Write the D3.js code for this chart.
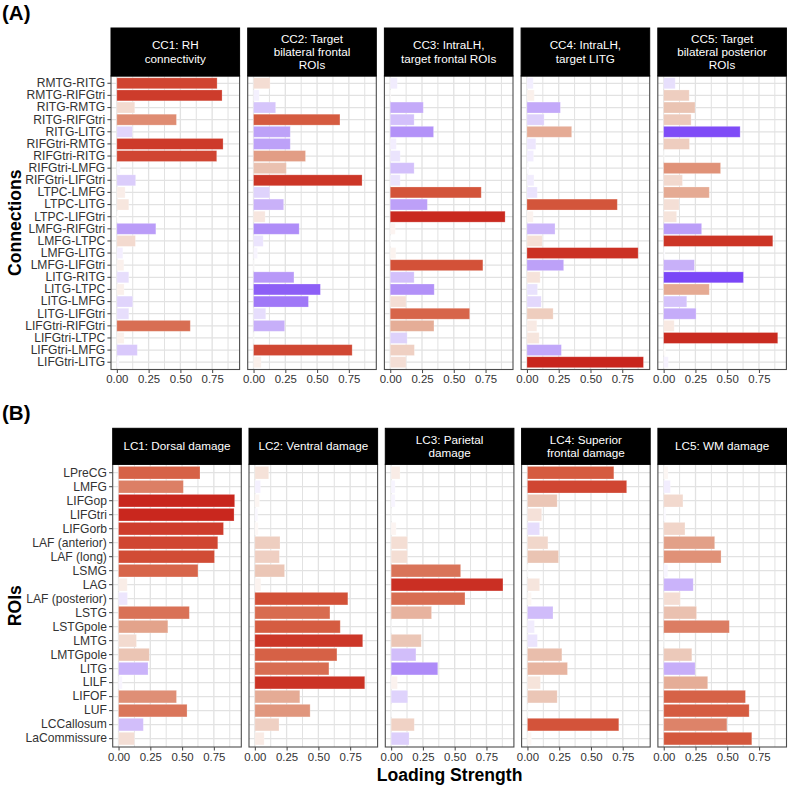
<!DOCTYPE html>
<html><head><meta charset="utf-8">
<script src="https://cdnjs.cloudflare.com/ajax/libs/d3/7.8.5/d3.min.js"></script>
<style>body{margin:0;background:#fff}svg{display:block}text{font-family:"Liberation Sans",Arial,Helvetica,sans-serif}</style>
</head><body>
<script>
// ---------- DATA ----------
const connections = ["RMTG-RITG","RMTG-RIFGtri","RITG-RMTG","RITG-RIFGtri","RITG-LITG","RIFGtri-RMTG","RIFGtri-RITG","RIFGtri-LMFG","RIFGtri-LIFGtri","LTPC-LMFG","LTPC-LITG","LTPC-LIFGtri","LMFG-RIFGtri","LMFG-LTPC","LMFG-LITG","LMFG-LIFGtri","LITG-RITG","LITG-LTPC","LITG-LMFG","LITG-LIFGtri","LIFGtri-RIFGtri","LIFGtri-LTPC","LIFGtri-LMFG","LIFGtri-LITG"];
const rois = ["LPreCG","LMFG","LIFGop","LIFGtri","LIFGorb","LAF (anterior)","LAF (long)","LSMG","LAG","LAF (posterior)","LSTG","LSTGpole","LMTG","LMTGpole","LITG","LILF","LIFOF","LUF","LCCallosum","LaCommissure"];

const ccTitles = [["CC1: RH","connectivity"],["CC2: Target","bilateral frontal","ROIs"],["CC3: IntraLH,","target frontal ROIs"],["CC4: IntraLH,","target LITG"],["CC5: Target","bilateral posterior","ROIs"]];
const lcTitles = [["LC1: Dorsal damage"],["LC2: Ventral damage"],["LC3: Parietal","damage"],["LC4: Superior","frontal damage"],["LC5: WM damage"]];

// signed loadings (negative = purple)
const cc1 = [0.789,0.828,0.141,0.469,-0.122,0.836,0.786,-0.026,-0.148,0.065,0.094,0.013,-0.307,0.146,-0.047,0.055,-0.094,0.057,-0.125,-0.094,0.578,0.057,-0.161,-0.016];
const cc2 = [0.130,-0.044,-0.174,0.680,-0.289,-0.289,0.409,0.258,0.854,-0.128,-0.237,0.091,-0.359,-0.076,-0.031,-0.005,-0.318,-0.526,-0.432,-0.096,-0.245,0.005,0.776,0.060];
const cc3 = [-0.055,0.005,-0.260,-0.188,-0.341,-0.047,-0.078,-0.188,-0.078,0.716,-0.292,0.904,0.039,0.005,0.044,0.729,-0.188,-0.346,0.125,0.625,0.344,-0.133,0.190,0.125];
const cc4 = [-0.049,0.057,-0.263,-0.135,0.352,-0.070,-0.052,-0.016,-0.055,-0.081,0.711,0.049,-0.221,0.120,0.875,-0.289,0.104,-0.083,-0.112,0.206,0.078,0.096,-0.271,0.917];
const cc5 = [-0.091,0.201,0.247,0.216,-0.602,0.203,0.005,0.448,0.148,0.359,0.122,0.102,-0.299,0.859,-0.010,-0.242,-0.628,0.359,-0.182,-0.255,0.083,0.898,0.015,-0.036];

const lc1 = [0.641,0.510,0.914,0.909,0.826,0.781,0.755,0.625,0.068,-0.070,0.557,0.388,0.141,0.242,-0.232,-0.029,0.456,0.539,-0.195,0.125];
const lc2 = [0.109,-0.044,0.036,-0.023,0.026,0.198,0.193,0.234,0.047,0.732,0.591,0.672,0.849,0.646,0.583,0.865,0.354,0.435,0.190,0.073];
const lc3 = [0.070,-0.031,-0.031,0.003,0.039,0.128,0.128,0.547,0.880,0.581,0.318,0.003,0.237,-0.195,-0.367,0.049,-0.130,0.003,0.182,-0.141];
const lc4 = [0.680,0.781,0.234,0.112,-0.096,0.161,0.245,0.005,0.096,0.031,-0.201,-0.055,-0.078,0.271,0.315,0.102,0.234,0.003,0.719,0.031];
const lc5 = [0.034,-0.052,0.151,-0.016,0.167,0.401,0.451,-0.031,-0.232,0.130,0.258,0.516,0.003,0.221,-0.247,0.346,0.643,0.672,0.497,0.693];

const xTicks = [0, 0.25, 0.5, 0.75];
const xMinor = [0.125, 0.375, 0.625, 0.875];

// ---------- SETUP ----------
const W = 790, H = 788;
const svg = d3.select("body").append("svg").attr("width", W).attr("height", H);

const color = d3.scaleLinear()
  .domain([-0.65,-0.5,-0.3,-0.1,0,0.1,0.25,0.4,0.55,0.7,0.8,0.92])
  .range(["#7540f7","#9165f6","#bb9ef8","#e5dcfc","#ffffff","#f6e4dc","#eac3b2","#e2a088","#d97358","#d4573c","#cf4230","#c8241c"])
  .interpolate(d3.interpolateLab).clamp(true);

const xDomain = [-0.046, 0.966];
const panelW = 128.6;
const grid = "#e2e2e2", border = "#4d4d4d", axisTxt = "#333333";

function drawBlock(cfg) {
  const g = svg.append("g");
  const y = d3.scaleBand().domain(cfg.cats).range([cfg.top, cfg.bottom]).paddingInner(0.1).paddingOuter(0.15);
  cfg.series.forEach((vals, i) => {
    const left = cfg.left0 + i * cfg.step;
    const x = d3.scaleLinear().domain(xDomain).range([left, left + panelW]);
    const p = g.append("g");
    p.append("rect").attr("x", left).attr("y", cfg.top).attr("width", panelW).attr("height", cfg.bottom - cfg.top).attr("fill", "#fff");
    p.selectAll(".mn").data(xMinor).join("line")
      .attr("x1", d => x(d)).attr("x2", d => x(d)).attr("y1", cfg.top).attr("y2", cfg.bottom)
      .attr("stroke", grid).attr("stroke-width", 1);
    p.selectAll(".mj").data(xTicks).join("line")
      .attr("x1", d => x(d)).attr("x2", d => x(d)).attr("y1", cfg.top).attr("y2", cfg.bottom)
      .attr("stroke", grid).attr("stroke-width", 1.3);
    p.selectAll(".hg").data(cfg.cats).join("line")
      .attr("x1", left).attr("x2", left + panelW)
      .attr("y1", d => y(d) + y.bandwidth() / 2).attr("y2", d => y(d) + y.bandwidth() / 2)
      .attr("stroke", grid).attr("stroke-width", 1.3);
    p.selectAll(".bar").data(vals).join("rect")
      .attr("x", x(0)).attr("y", (d, j) => y(cfg.cats[j]))
      .attr("width", d => x(Math.abs(d)) - x(0)).attr("height", y.bandwidth())
      .attr("fill", d => color(d))
      .attr("stroke", "#ffffff").attr("stroke-opacity", 0.3).attr("stroke-width", 0.8);
    p.append("rect").attr("x", left).attr("y", cfg.top).attr("width", panelW).attr("height", cfg.bottom - cfg.top)
      .attr("fill", "none").attr("stroke", border).attr("stroke-width", 1.1);
    p.append("rect").attr("x", left).attr("y", cfg.stripTop).attr("width", panelW).attr("height", cfg.top - cfg.stripTop)
      .attr("fill", "#000").attr("stroke", "#000").attr("stroke-width", 1);
    const lines = cfg.titles[i];
    const cy = (cfg.stripTop + cfg.top) / 2;
    const lh = 13.3;
    lines.forEach((t, k) => {
      p.append("text").attr("x", left + panelW / 2)
        .attr("y", cy + (k - (lines.length - 1) / 2) * lh + 4.1)
        .attr("text-anchor", "middle").attr("fill", "#fff").attr("font-size", "11.7px").text(t);
    });
    const xa = p.append("g").attr("transform", `translate(0,${cfg.bottom})`)
      .call(d3.axisBottom(x).tickValues(xTicks).tickFormat(d3.format(".2f")).tickSize(3.6).tickPadding(2.2));
    xa.select(".domain").remove();
    xa.selectAll("line").attr("stroke", border).attr("stroke-width", 1.07);
    xa.selectAll("text").attr("fill", axisTxt).attr("font-size", "11.4px").attr("font-family", '"Liberation Sans",Arial,sans-serif');
    if (i === 0) {
      const ya = p.append("g").attr("transform", `translate(${left},0)`)
        .call(d3.axisLeft(y).tickSize(3.6).tickPadding(2.2));
      ya.select(".domain").remove();
      ya.selectAll("line").attr("stroke", border).attr("stroke-width", 1.07);
      ya.selectAll("text").attr("fill", axisTxt).attr("font-size", "12.1px").attr("font-family", '"Liberation Sans",Arial,sans-serif');
    }
  });
  svg.append("text").attr("transform", `translate(20.5,${(cfg.top + cfg.bottom) / 2}) rotate(-90)`)
    .attr("text-anchor", "middle").attr("font-weight", "bold").attr("font-size", "17.6px").attr("fill", "#000").text(cfg.yTitle);
  svg.append("text").attr("x", 2).attr("y", cfg.tagY).attr("font-weight", "bold").attr("font-size", "20.5px").attr("fill", "#000").text(cfg.tag);
}

drawBlock({cats: connections, series: [cc1, cc2, cc3, cc4, cc5], titles: ccTitles,
  left0: 111, step: 136.7, stripTop: 28, top: 76, bottom: 369.5, yTitle: "Connections", tag: "(A)", tagY: 20});
drawBlock({cats: rois, series: [lc1, lc2, lc3, lc4, lc5], titles: lcTitles,
  left0: 112.7, step: 136.3, stripTop: 428.3, top: 464.3, bottom: 747, yTitle: "ROIs", tag: "(B)", tagY: 420});

svg.append("text").attr("x", (112.7 + 786.5) / 2).attr("y", 781).attr("text-anchor", "middle")
  .attr("font-weight", "bold").attr("font-size", "17.6px").attr("fill", "#000").text("Loading Strength");
</script>
</body></html>
